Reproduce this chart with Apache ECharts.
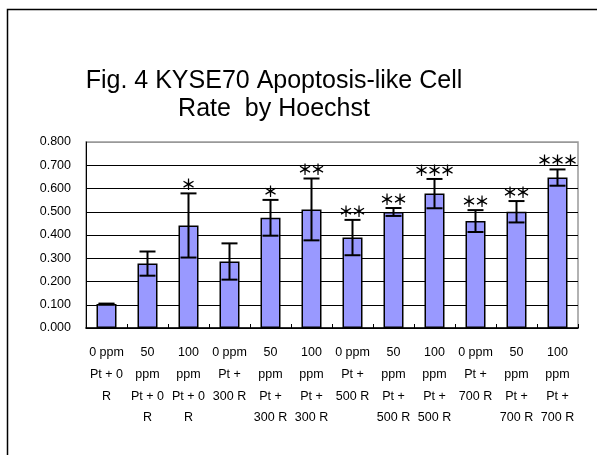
<!DOCTYPE html>
<html><head><meta charset="utf-8">
<script src="https://cdn.jsdelivr.net/npm/echarts@6/dist/echarts.min.js"></script>
<style>html,body{margin:0;padding:0;background:#fff}#c{width:597px;height:455px}</style>
</head><body><div id="c"></div>
<script>
var categories = [
  "0 ppm\nPt + 0\nR", "50\nppm\nPt + 0\nR", "100\nppm\nPt + 0\nR",
  "0 ppm\nPt +\n300 R", "50\nppm\nPt +\n300 R", "100\nppm\nPt +\n300 R",
  "0 ppm\nPt +\n500 R", "50\nppm\nPt +\n500 R", "100\nppm\nPt +\n500 R",
  "0 ppm\nPt +\n700 R", "50\nppm\nPt +\n700 R", "100\nppm\nPt +\n700 R"
];
var means  = [0.103, 0.277, 0.441, 0.286, 0.474, 0.510, 0.389, 0.499, 0.578, 0.460, 0.500, 0.647];
var errors = [0.002, 0.052, 0.138, 0.078, 0.077, 0.133, 0.076, 0.017, 0.063, 0.047, 0.046, 0.035];
var stars  = ["", "", "*", "", "*", "**", "**", "**", "***", "**", "**", "***"];
var yTicks = [0, 0.1, 0.2, 0.3, 0.4, 0.5, 0.6, 0.7, 0.8];

var chart = echarts.init(document.getElementById('c'), null, {renderer: 'canvas'});
var errData = means.map(function (m, i) { return [i, m - errors[i], m + errors[i], stars[i].length]; });

chart.setOption({
  backgroundColor: '#fff',
  animation: false,
  graphic: [
    {type: 'rect', shape: {x: 7.5, y: 9.5, width: 700, height: 700}, style: {fill: 'none', stroke: '#000', lineWidth: 1.5}, z: 100},
    {type: 'text', x: 274, y: 67, style: {text: 'Fig. 4 KYSE70 Apoptosis-like Cell\nRate  by Hoechst', font: '25px "Liberation Sans", Arial, sans-serif', fill: '#000', textAlign: 'center', textVerticalAlign: 'top', lineHeight: 28}}
  ],
  grid: {left: 86, right: 19, top: 142, bottom: 127, show: true, borderColor: '#999', borderWidth: 1.5, backgroundColor: '#fff'},
  xAxis: {
    type: 'category', data: categories,
    axisLine: {lineStyle: {color: '#000', width: 1.5}},
    axisTick: {show: true, inside: true, length: 4, alignWithLabel: false, lineStyle: {color: '#000'}},
    axisLabel: {interval: 0, color: '#000', fontSize: 12.5, fontFamily: '"Liberation Sans", Arial, sans-serif', lineHeight: 21.7, margin: 14}
  },
  yAxis: {
    type: 'value', min: 0, max: 0.8, interval: 0.1,
    axisLine: {show: true, lineStyle: {color: '#000', width: 1}},
    axisTick: {show: false},
    splitLine: {lineStyle: {color: ['#000','#000','#000','#000','#000','#000','#000','#000','#999'], width: 1}},
    axisLabel: {color: '#000', fontSize: 12.5, fontFamily: '"Liberation Sans", Arial, sans-serif', margin: 15,
      formatter: function (v) { return v.toFixed(3); }}
  },
  series: [
    {type: 'bar', data: means, barWidth: 20,
      itemStyle: {color: '#9999FF', borderColor: '#000', borderWidth: 1.5}},
    {type: 'custom', data: errData, z: 5,
      renderItem: function (params, api) {
        var x = api.value(0);
        var lo = api.coord([x, api.value(1)]);
        var hi = api.coord([x, api.value(2)]);
        var cw = 8;
        var st = {stroke: '#000', lineWidth: 2};
        var children = [
          {type: 'line', shape: {x1: hi[0], y1: hi[1], x2: lo[0], y2: lo[1]}, style: st},
          {type: 'line', shape: {x1: hi[0] - cw, y1: hi[1], x2: hi[0] + cw, y2: hi[1]}, style: st},
          {type: 'line', shape: {x1: lo[0] - cw, y1: lo[1], x2: lo[0] + cw, y2: lo[1]}, style: st}
        ];
        var n = api.value(3);
        var pitch = 13;
        for (var k = 0; k < n; k++) {
          children.push({type: 'text', x: hi[0] + (k - (n - 1) / 2) * pitch, y: hi[1] - 9,
            style: {text: '＊', font: 'bold 15px "Noto Sans CJK JP", sans-serif', fill: '#000', textAlign: 'center', textVerticalAlign: 'middle'}});
        }
        return {type: 'group', children: children};
      }}
  ]
});
</script></body></html>
